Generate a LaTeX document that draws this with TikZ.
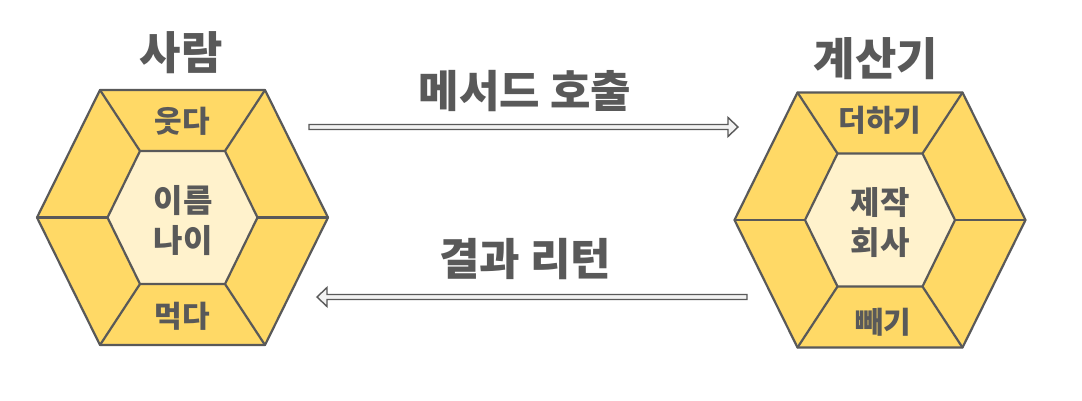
\documentclass[tikz,border=0pt]{standalone}
\usepackage{fontspec}
\setmainfont{Noto Sans CJK KR}
\usetikzlibrary{calc}
\definecolor{ink}{HTML}{595959}
\definecolor{gold}{HTML}{FFD966}
\definecolor{cream}{HTML}{FFF2CC}
\definecolor{shaftfill}{HTML}{F2F2F2}
\tikzset{
  hexline/.style={draw=ink, line width=2.2pt, line join=round},
  outerhex/.style={hexline, fill=gold},
  innerhex/.style={hexline, fill=cream},
  spoke/.style={draw=ink, line width=2.2pt, line cap=round},
  title/.style={text=ink, inner sep=0pt, font=\bfseries\fontsize{45}{50}\selectfont},
  arrlabel/.style={text=ink, inner sep=0pt, font=\bfseries\fontsize{44}{48}\selectfont},
  celllabel/.style={text=ink, inner sep=0pt, font=\bfseries\fontsize{30}{40}\selectfont, align=center},
  midlabel/.style={text=ink, inner sep=0pt, font=\bfseries\fontsize{32}{40}\selectfont, align=center},
  bigarrow/.style={draw=ink, fill=shaftfill, line width=1.4pt, line join=miter},
}
\newcommand\drawhexagon[2]{%
  \begin{scope}[shift={(#2)}]
    \coordinate (#1-o1) at (-82.5,-127.5);
    \coordinate (#1-o2) at (82.5,-127.5);
    \coordinate (#1-o3) at (145.5,0);
    \coordinate (#1-o4) at (82.5,127.5);
    \coordinate (#1-o5) at (-82.5,127.5);
    \coordinate (#1-o6) at (-145.5,0);
    \coordinate (#1-i1) at (-42.5,-66.5);
    \coordinate (#1-i2) at (42.5,-66.5);
    \coordinate (#1-i3) at (75,0);
    \coordinate (#1-i4) at (42.5,66.5);
    \coordinate (#1-i5) at (-42.5,66.5);
    \coordinate (#1-i6) at (-75,0);
  \end{scope}
  \path[outerhex] (#1-o1) -- (#1-o2) -- (#1-o3) -- (#1-o4) -- (#1-o5) -- (#1-o6) -- cycle;
  \foreach \k in {1,...,6} {\draw[spoke] (#1-o\k) -- (#1-i\k);}
  \path[innerhex] (#1-i1) -- (#1-i2) -- (#1-i3) -- (#1-i4) -- (#1-i5) -- (#1-i6) -- cycle;
}
\begin{document}
\begin{tikzpicture}[x=1pt,y=-1pt]
\useasboundingbox[fill=white] (0,0) rectangle (1082,400);

% left hexagon
\drawhexagon{L}{182.5,217.5}
\node[title] (Ltitle) at (181,53) {사람};
\node[celllabel] (Ltop) at (182,121) {웃다};
\node[midlabel] (Lmid) at (183,221) {이름\\나이};
\node[celllabel] (Lbot) at (182,316) {먹다};

% right hexagon
\drawhexagon{R}{880,220}
\node[title] (Rtitle) at (876,59) {계산기};
\node[celllabel] (Rtop) at (880,120) {더하기};
\node[midlabel] (Rmid) at (880,223) {제작\\회사};
\node[celllabel] (Rbot) at (883,322) {빼기};

% arrows
\coordinate (A1s) at (309,127);
\coordinate (A1e) at (738,127);
\coordinate (A2s) at (747,297);
\coordinate (A2e) at (317,297);
\path[bigarrow] ($(A1s)+(0,-2.5)$) -- ($(A1e)+(-10,-2.5)$) -- ($(A1e)+(-10,-9.5)$) -- (A1e)
  -- ($(A1e)+(-10,9.5)$) -- ($(A1e)+(-10,2.5)$) -- ($(A1s)+(0,2.5)$) -- cycle;
\path[bigarrow] ($(A2s)+(0,-2.5)$) -- ($(A2e)+(10,-2.5)$) -- ($(A2e)+(10,-9.5)$) -- (A2e)
  -- ($(A2e)+(10,9.5)$) -- ($(A2e)+(10,2.5)$) -- ($(A2s)+(0,2.5)$) -- cycle;
\node[arrlabel] (A1lab) at (525,91) {메서드 호출};
\node[arrlabel] (A2lab) at (525,259) {결과 리턴};
\end{tikzpicture}
\end{document}
